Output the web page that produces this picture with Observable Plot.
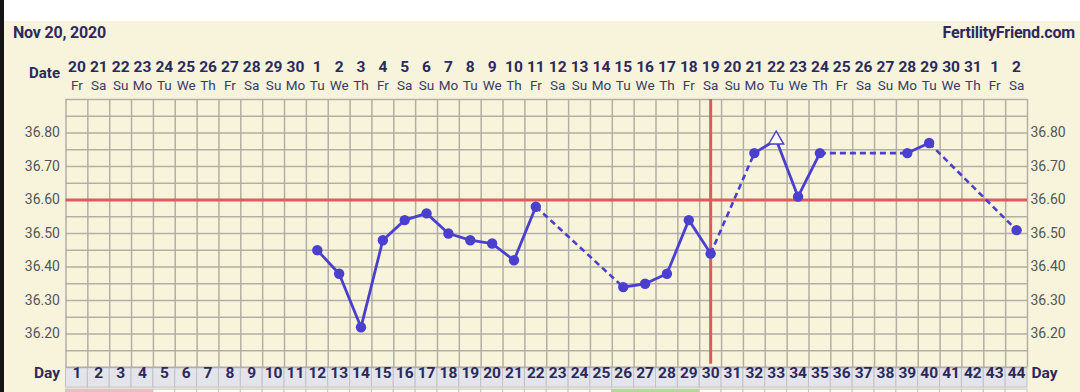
<!DOCTYPE html>
<html>
<head>
<meta charset="utf-8">
<script src="https://cdn.jsdelivr.net/npm/d3@7"></script>
<script src="https://cdn.jsdelivr.net/npm/@observablehq/plot@0.6"></script>
<style>
  html, body { margin: 0; padding: 0; background: #fff; }
  #wrap { position: relative; width: 1080px; height: 392px; overflow: hidden; background: #fff; font-family: Roboto, sans-serif; }
  #panel { position: absolute; left: 4px; top: 21px; width: 1076px; height: 371px; background: #f8f4dc; }
  #edge { position: absolute; left: 0; top: 0; width: 4px; height: 392px; background: #141414; }
  #chart { position: absolute; left: 0; top: 0; }
  .hdr { position: absolute; top: 25px; font: bold 16px Roboto, sans-serif; color: #2b2a5c; line-height: 1; letter-spacing: -0.2px; }
</style>
</head>
<body>
<div id="wrap">
  <div id="panel"></div>
  <div id="edge"></div>
  <div id="chart"></div>
  <div class="hdr" style="left:13px">Nov 20, 2020</div>
  <div class="hdr" style="right:5px">FertilityFriend.com</div>
</div>
<script>
// ---- data ----
const cycleDays = [1,2,3,4,5,6,7,8,9,10,11,12,13,14,15,16,17,18,19,20,21,22,23,24,25,26,27,28,29,30,31,32,33,34,35,36,37,38,39,40,41,42,43,44];
const dateNumbers = ["20","21","22","23","24","25","26","27","28","29","30","1","2","3","4","5","6","7","8","9","10","11","12","13","14","15","16","17","18","19","20","21","22","23","24","25","26","27","28","29","30","31","1","2"];
const weekdays = ["Fr","Sa","Su","Mo","Tu","We","Th","Fr","Sa","Su","Mo","Tu","We","Th","Fr","Sa","Su","Mo","Tu","We","Th","Fr","Sa","Su","Mo","Tu","We","Th","Fr","Sa","Su","Mo","Tu","We","Th","Fr","Sa","Su","Mo","Tu","We","Th","Fr","Sa"];
const tempDays = [12,13,14,15,16,17,18,19,20,21,22,26,27,28,29,30,32,33,34,35,39,40,44];
const temps = [36.45,36.38,36.22,36.48,36.54,36.56,36.50,36.48,36.47,36.42,36.58,36.34,36.35,36.38,36.54,36.44,36.74,36.78,36.61,36.74,36.74,36.77,36.51];
const openMarkerDays = [33];
const yTickLabels = [36.20,36.30,36.40,36.50,36.60,36.70,36.80];
const gridTemps = [36.10,36.15,36.20,36.25,36.30,36.35,36.40,36.45,36.50,36.55,36.60,36.65,36.70,36.75,36.80,36.85,36.90];
const coverline = 36.60;
const ovulationDay = 30;
const pinkDays = [1,2,3,4];
const greenDays = [26,27,28,29];

// ---- derived tables ----
const points = tempDays.map((d, i) => ({day: d, temp: temps[i], open: openMarkerDays.includes(d)}));
const segs = [];
for (let i = 1; i < points.length; i++) {
  const a = points[i-1], b = points[i];
  segs.push({x1: a.day, y1: a.temp, x2: b.day, y2: b.temp, gap: b.day - a.day > 1});
}
const cols = cycleDays.map((d, i) => ({day: d, num: dateNumbers[i], wd: weekdays[i],
  band: pinkDays.includes(d) ? "#f3b9c9" : greenDays.includes(d) ? "#a9df8e" : "#fbfbf8"}));
const vGrid = [0.5].concat(cycleDays.map(d => d + 0.5));

const navy = "#2b2a5c";
const lineColor = "#4a3fcf";
const red = "#de5b5b";
const gridColor = "#b2afa4";

// day row lies just below the temperature grid (y scale extended)
const rowTop = 36.10, rowBottom = 36.04, bandTop = 36.034, bandBottom = 35.98;

const chart = Plot.plot({
  width: 1080,
  height: 392,
  marginLeft: 65.5,
  marginRight: 53,
  marginTop: 99,
  marginBottom: 25,
  x: {domain: [0.5, 44.5], axis: null},
  y: {domain: [36.10, 36.90], axis: null},
  style: {background: "transparent", fontFamily: "Roboto, sans-serif"},
  marks: [
    // day row backgrounds
    Plot.rect(cols, {x1: d => d.day - 0.5, x2: d => d.day + 0.5, y1: rowBottom, y2: rowTop, fill: "#e4e4eb", stroke: "#c2c1c8", strokeWidth: 1}),
    Plot.rect(cols, {x1: d => d.day - 0.5, x2: d => d.day + 0.5, y1: bandBottom, y2: bandTop, fill: d => d.band, stroke: "#c9c7c0", strokeWidth: 1}),
    // grid
    Plot.ruleX(vGrid, {x: d => d, y1: 36.10, y2: 36.90, stroke: gridColor, strokeWidth: 1.5}),
    Plot.ruleY(gridTemps, {y: d => d, x1: 0.5, x2: 44.5, stroke: gridColor, strokeWidth: 1.5}),
    // coverline and ovulation line
    Plot.ruleY([coverline], {x1: 0.5, x2: 44.5, stroke: red, strokeWidth: 3.2}),
    Plot.ruleX([ovulationDay], {y1: 36.11, y2: 36.90, stroke: red, strokeWidth: 3}),
    // temperature line
    Plot.link(segs.filter(s => !s.gap), {x1: "x1", y1: "y1", x2: "x2", y2: "y2", stroke: lineColor, strokeWidth: 2.8}),
    Plot.link(segs.filter(s => s.gap), {x1: "x1", y1: "y1", x2: "x2", y2: "y2", stroke: lineColor, strokeWidth: 2.6, strokeDasharray: "6,4"}),
    Plot.dot(points.filter(p => !p.open), {x: "day", y: "temp", r: 5.2, fill: lineColor}),
    Plot.dot(points.filter(p => p.open), {x: "day", y: "temp", r: 5.5, symbol: "triangle", fill: "#ffffff", stroke: lineColor, strokeWidth: 1.5}),
    // y labels
    Plot.text(yTickLabels, {x: 0.5, y: d => d, text: d => d.toFixed(2), textAnchor: "end", dx: -6, fontSize: 14, fill: "#555555"}),
    Plot.text(yTickLabels, {x: 44.5, y: d => d, text: d => d.toFixed(2), textAnchor: "start", dx: 3, fontSize: 14, fill: "#555555"}),
    // date header rows
    Plot.text(cols, {x: "day", text: "num", frameAnchor: "top", dy: -39, fontSize: 15.5, fontWeight: "bold", fill: navy}),
    Plot.text(cols, {x: "day", text: "wd", frameAnchor: "top", dy: -19, fontSize: 13.5, fill: "#3a3a66"}),
    Plot.text(["Date"], {x: 0.5, frameAnchor: "top", dy: -32, dx: -6, textAnchor: "end", fontSize: 15, fontWeight: "bold", fill: navy}),
    // day row labels
    Plot.text(cols, {x: "day", text: d => String(d.day), frameAnchor: "bottom", dy: 10, fontSize: 15.5, fontWeight: "bold", fill: navy}),
    Plot.text(["Day"], {x: 0.5, frameAnchor: "bottom", dy: 10, dx: -6, textAnchor: "end", fontSize: 15.5, fontWeight: "bold", fill: navy}),
    Plot.text(["Day"], {x: 44.5, frameAnchor: "bottom", dy: 10, dx: 4, textAnchor: "start", fontSize: 15.5, fontWeight: "bold", fill: navy})
  ]
});
document.getElementById("chart").appendChild(chart);
</script>
</body>
</html>
